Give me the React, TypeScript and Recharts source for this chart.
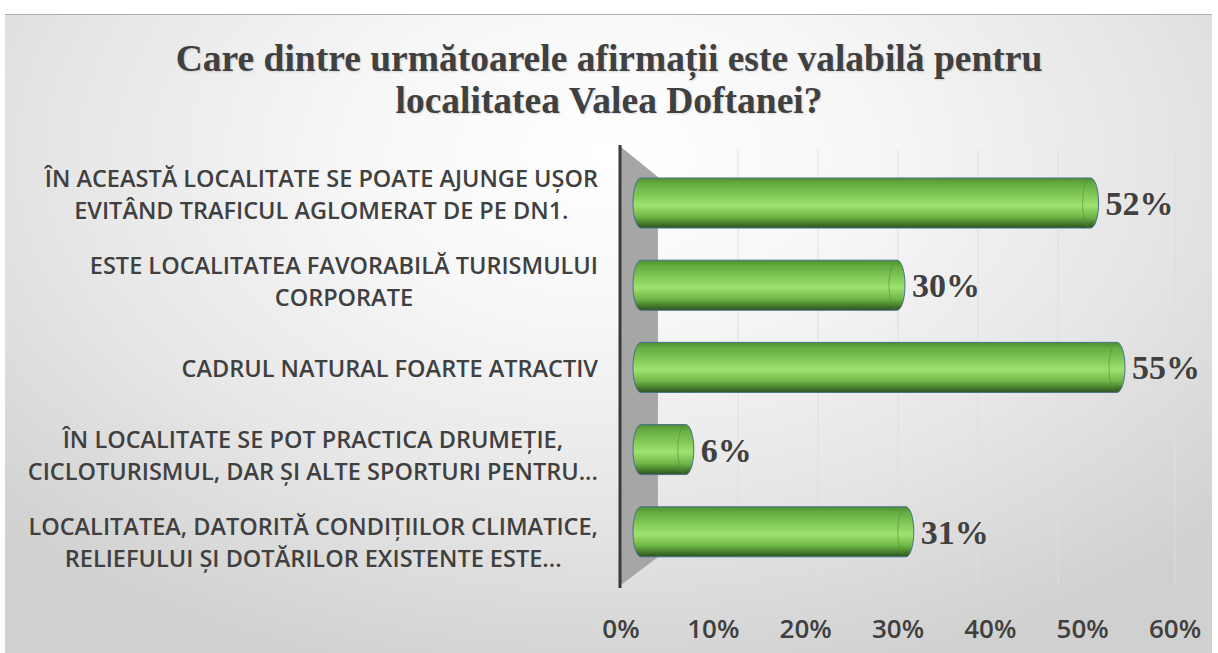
import React from "react";
import {
  ComposedChart,
  Bar,
  Line,
  XAxis,
  YAxis,
  CartesianGrid,
  LabelList,
  ReferenceArea,
} from "recharts";

const categories = [
  "ÎN ACEASTĂ LOCALITATE SE POATE AJUNGE UȘOR\nEVITÂND TRAFICUL AGLOMERAT DE PE DN1.",
  "ESTE LOCALITATEA FAVORABILĂ TURISMULUI\nCORPORATE",
  "CADRUL NATURAL FOARTE ATRACTIV",
  "ÎN LOCALITATE SE POT PRACTICA DRUMEȚIE,\nCICLOTURISMUL, DAR ȘI ALTE SPORTURI PENTRU...",
  "LOCALITATEA, DATORITĂ CONDIȚIILOR CLIMATICE,\nRELIEFULUI ȘI DOTĂRILOR EXISTENTE ESTE...",
];
const values = [52, 30, 55, 6, 31];
const xTicks = [0, 10, 20, 30, 40, 50, 60];
const gridTicks = [10, 20, 30, 40, 50];

const data = categories.map((name, i) => ({ name, value: values[i] }));

function CategoryTick(props: any) {
  const { x, y, payload } = props;
  const lines = String(payload.value).split("\n");
  const h = 80;
  const right = x - 15;
  return (
    <foreignObject x={right - 600} y={y - h / 2} width={600} height={h}>
      <div
        style={{
          height: h,
          display: "flex",
          justifyContent: "flex-end",
          alignItems: "center",
        }}
      >
        <div
          style={{
            textAlign: "center",
            fontFamily: "'Open Sans'",
            fontWeight: 600,
            fontSize: 23.5,
            lineHeight: "32px",
            color: "#404040",
            whiteSpace: "nowrap",
          }}
        >
          {lines.map((l, i) => (
            <div key={i}>{l}</div>
          ))}
        </div>
      </div>
    </foreignObject>
  );
}

function PctTick(props: any) {
  const { x, y, payload } = props;
  return (
    <text
      x={x}
      y={y + 36}
      dy="0.36em"
      textAnchor="middle"
      fill="#404040"
      fontFamily="'Open Sans'"
      fontWeight={600}
      fontSize={26}
    >
      {payload.value}%
    </text>
  );
}

function Cylinder(props: any) {
  const { x, y, width, height } = props;
  if (!width || width <= 0) return null;
  const rx = 8;
  const r = height / 2;
  const body = `M${x + rx},${y} L${x + width},${y} A${rx},${r} 0 0 1 ${x + width},${y + height} L${x + rx},${y + height} A${rx},${r} 0 0 1 ${x + rx},${y} Z`;
  return (
    <g>
      <path d={body} fill="url(#cyl)" stroke="#46708f" strokeWidth={1} />
      <path
        d={`M${x + width},${y} A${rx},${r} 0 0 0 ${x + width},${y + height}`}
        fill="none"
        stroke="#5b8a3c"
        strokeWidth={1}
        opacity={0.6}
      />
    </g>
  );
}

function Wall(props: any) {
  const { x, y, width, height } = props;
  return (
    <g>
      <polygon
        points={`${x},${y - 3} ${x + width},${y + 27} ${x + width},${y + height - 28} ${x},${y + height}`}
        fill="#a6a6a6"
      />
      <line x1={x - 1} y1={y - 5} x2={x - 1} y2={y + height + 3} stroke="#3a3a3a" strokeWidth={3} />
    </g>
  );
}

export default function App() {
  return (
    <div style={{ position: "absolute", left: 0, top: 0, width: 1218, height: 653, background: "#ffffff" }}>
      <div
        style={{
          position: "absolute",
          left: 5,
          top: 14,
          width: 1207,
          height: 639,
          borderTop: "1px solid #b0b0b0",
          background:
            "radial-gradient(ellipse 70% 85% at 50% 22%, #ffffff 0%, #f7f7f7 30%, #e6e6e6 65%, #d0d0d0 100%)",
        }}
      />
      <div
        style={{
          position: "absolute",
          left: 0,
          top: 38,
          width: 1218,
          textAlign: "center",
          fontFamily: "'Liberation Serif', 'Times New Roman', serif",
          fontWeight: 700,
          fontSize: 37.5,
          lineHeight: "42px",
          color: "#404040",
          textShadow: "1px 1px 2px rgba(0,0,0,0.15)",
        }}
      >
        Care dintre următoarele afirmații este valabilă pentru
        <br />
        localitatea Valea Doftanei?
      </div>
      <div style={{ position: "absolute", left: 0, top: 0 }}>
        <ComposedChart
          width={1218}
          height={653}
          data={data}
          layout="vertical"
          margin={{ top: 150, right: 43, bottom: 8, left: 0 }}
        >
          <defs>
            <linearGradient id="cyl" x1="0" y1="0" x2="0" y2="1">
              <stop offset="0" stopColor="#4f8f31" />
              <stop offset="0.12" stopColor="#66ad42" />
              <stop offset="0.55" stopColor="#9ee36f" />
              <stop offset="0.78" stopColor="#6fb447" />
              <stop offset="0.93" stopColor="#3f7327" />
              <stop offset="1" stopColor="#2c4f1f" />
            </linearGradient>
          </defs>
          <XAxis
            xAxisId="tick"
            type="number"
            domain={[0, 60]}
            ticks={xTicks}
            axisLine={false}
            tickLine={false}
            tick={<PctTick />}
            height={60}
          />
          <XAxis xAxisId="grid" type="number" domain={[0, 60]} ticks={gridTicks} padding={{ left: 37, right: 37 }} height={0} hide />
          <XAxis xAxisId="bar" type="number" domain={[0, 60]} padding={{ left: 12, right: 14 }} height={0} hide />
          <YAxis
            yAxisId="label"
            type="category"
            dataKey="name"
            width={621}
            axisLine={false}
            tickLine={false}
            tick={<CategoryTick />}
            interval={0}
          />
          <YAxis yAxisId="bar" type="category" dataKey="name" padding={{ top: 12, bottom: 12 }} width={0} hide />
          <CartesianGrid xAxisId="grid" yAxisId="bar" horizontal={false} stroke="#dedede" strokeWidth={1} />
          <ReferenceArea xAxisId="tick" yAxisId="label" x1={0} x2={4} shape={<Wall />} ifOverflow="visible" />
          <Line
            xAxisId="tick"
            yAxisId="label"
            dataKey="value"
            stroke="none"
            dot={false}
            activeDot={false}
            legendType="none"
            isAnimationActive={false}
          />
          <Line
            xAxisId="grid"
            yAxisId="label"
            dataKey="value"
            stroke="none"
            dot={false}
            activeDot={false}
            legendType="none"
            isAnimationActive={false}
          />
          <Bar
            xAxisId="bar"
            yAxisId="bar"
            dataKey="value"
            barSize={50}
            shape={<Cylinder />}
            isAnimationActive={false}
          >
            <LabelList
              dataKey="value"
              position="right"
              offset={15}
              formatter={(v: any) => `${v}%`}
              fill="#404040"
              style={{ fontFamily: "'Liberation Serif', 'Times New Roman', serif", fontWeight: 700, fontSize: 34 }}
            />
          </Bar>
        </ComposedChart>
      </div>
    </div>
  );
}
